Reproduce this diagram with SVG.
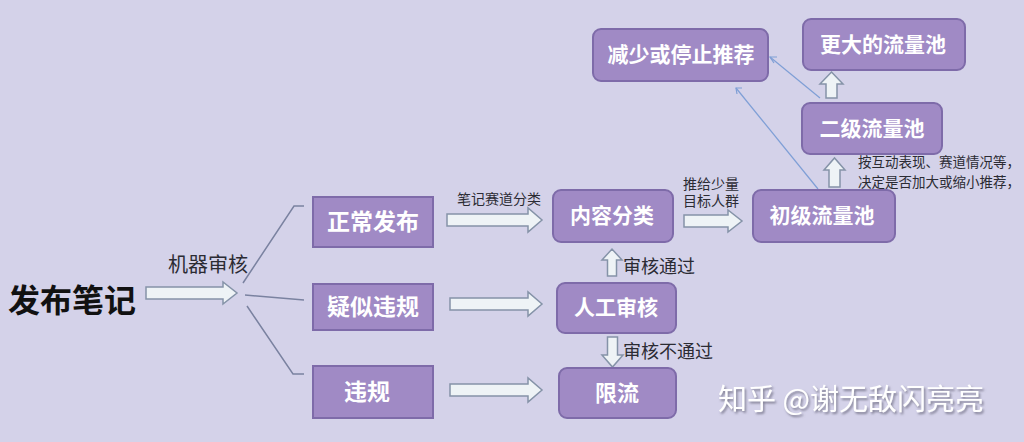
<svg xmlns="http://www.w3.org/2000/svg" width="1024" height="442" viewBox="0 0 1024 442">
<defs>
<style>
.bg{fill:#d4d2e9}
.box{fill:#a08ac5;stroke:#7e6ba9;stroke-width:2}
.bt{font-family:"Noto Sans CJK SC",sans-serif;font-weight:bold;fill:#ffffff;text-anchor:middle}
.blk{fill:#eef3f6;stroke:#8593a8;stroke-width:1.5;stroke-linejoin:miter}
.lbl{font-family:"Liberation Serif","Noto Sans CJK SC",serif;fill:#2b2b33}
.br{fill:none;stroke:#7a82a0;stroke-width:1.5}
.thin{fill:none;stroke:#7f9fd6;stroke-width:1.2}
</style>
<filter id="sh" x="-5%" y="-20%" width="110%" height="150%">
<feDropShadow dx="1.5" dy="2" stdDeviation="1" flood-color="#6d6a80" flood-opacity="0.8"/>
</filter>
</defs>
<rect class="bg" x="0" y="0" width="1024" height="442"/>

<g id="start">
<text x="8" y="312" font-family="'Noto Sans CJK SC',sans-serif" font-weight="bold" font-size="32" fill="#111">发布笔记</text>
</g>

<g id="connectors">
<polygon class="blk" points="146,287 223,287 223,282 237,293 223,304 223,299 146,299"/>
<text class="lbl" x="168" y="272" font-size="20" font-family="'Noto Sans CJK SC',sans-serif">机器审核</text>
<polyline class="br" points="243,283 294,206 304,206"/>
<polyline class="br" points="245,295 304,300"/>
<polyline class="br" points="247,306 293,374 304,374"/>

<polygon class="blk" points="447,214 528,214 528,208 542,220 528,232 528,226 447,226"/>
<text class="lbl" x="457" y="204" font-size="14">笔记赛道分类</text>
<polygon class="blk" points="450,298 528,298 528,292 542,304 528,316 528,310 450,310"/>
<polygon class="blk" points="450,384 528,384 528,378 542,390 528,402 528,396 450,396"/>

<polygon class="blk" points="684,215 728,215 728,210 742,221 728,232 728,227 684,227"/>
<text class="lbl" x="683" y="189" font-size="14">推给少量</text>
<text class="lbl" x="683" y="206" font-size="14">目标人群</text>

<polygon class="blk" points="607.5,276 607.5,260 602,260 612,249 622,260 616.5,260 616.5,276"/>
<text class="lbl" x="623" y="273" font-size="18">审核通过</text>
<polygon class="blk" points="607.5,337 607.5,355 602,355 612.5,367 623,355 617.5,355 617.5,337"/>
<text class="lbl" x="623" y="358" font-size="18">审核不通过</text>

<polygon class="blk" points="829,187 829,170 824,170 834.5,158 845,170 840,170 840,187"/>
<text class="lbl" x="858" y="167" font-size="13.5">按互动表现、赛道情况等，</text>
<text class="lbl" x="858" y="187" font-size="13.5">决定是否加大或缩小推荐，</text>

<polygon class="blk" points="826,98 826,84 820,84 831.5,72 843,84 837,84 837,98"/>

<line class="thin" x1="820" y1="98" x2="770" y2="57"/>
<polyline class="thin" points="777,57 770,57 774,63"/>
<line class="thin" x1="818" y1="189" x2="736" y2="88"/>
<polyline class="thin" points="742,88 736,88 737,94"/>
</g>

<g id="n-normal"><rect class="box" x="313" y="197" width="120" height="50"/><text class="bt" x="373" y="230" font-size="23">正常发布</text></g>
<g id="n-suspect"><rect class="box" x="313" y="284" width="120" height="46"/><text class="bt" x="373" y="315" font-size="23">疑似违规</text></g>
<g id="n-violate"><rect class="box" x="313" y="366" width="120" height="52"/><text class="bt" x="367" y="400" font-size="23">违规</text></g>

<g id="n-classify"><rect class="box" x="553" y="190" width="120" height="52" rx="8"/><text class="bt" x="612" y="223" font-size="21">内容分类</text></g>
<g id="n-manual"><rect class="box" x="557" y="283" width="119" height="50" rx="8"/><text class="bt" x="616" y="315" font-size="21">人工审核</text></g>
<g id="n-limit"><rect class="box" x="559" y="368" width="117" height="50" rx="8"/><text class="bt" x="617" y="401" font-size="22">限流</text></g>

<g id="n-pool1"><rect class="box" x="753" y="190" width="142" height="52" rx="8"/><text class="bt" x="822" y="223" font-size="21">初级流量池</text></g>
<g id="n-pool2"><rect class="box" x="802" y="103" width="140" height="51" rx="8"/><text class="bt" x="872" y="136" font-size="21">二级流量池</text></g>
<g id="n-bigger"><rect class="box" x="803" y="19" width="162" height="51" rx="8"/><text class="bt" x="883" y="52" font-size="21">更大的流量池</text></g>
<g id="n-reduce"><rect class="box" x="593" y="29" width="175" height="52" rx="8"/><text class="bt" x="681" y="62" font-size="21">减少或停止推荐</text></g>

<g id="watermark">
<text x="718" y="410" font-family="'Noto Sans CJK SC',sans-serif" font-size="29" fill="#ffffff" filter="url(#sh)">知乎 @谢无敌闪亮亮</text>
</g>
</svg>
